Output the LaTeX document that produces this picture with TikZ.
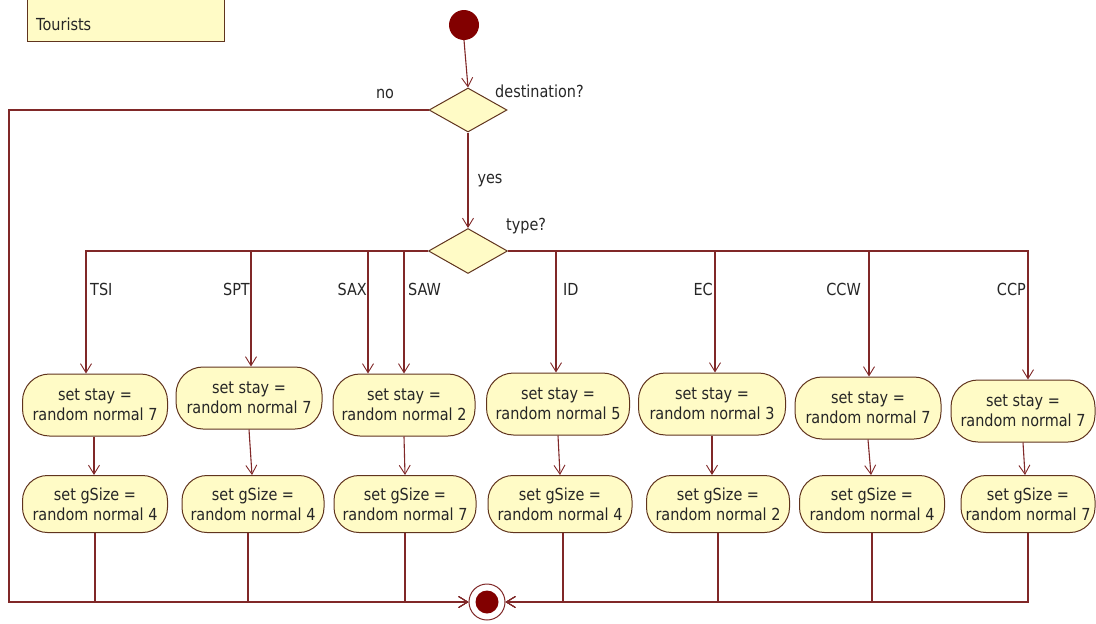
\documentclass[tikz,border=0pt]{standalone}
\usepackage{fontspec}
\setmainfont{DejaVu Sans}[FakeStretch=0.87]
\usetikzlibrary{arrows.meta,shapes.geometric,calc}

\definecolor{flowline}{RGB}{128,40,40}
\definecolor{boxfill}{RGB}{255,251,198}
\definecolor{boxline}{RGB}{96,52,30}
\definecolor{dotred}{RGB}{130,0,0}

\begin{document}
\begin{tikzpicture}[x=1pt,y=-1pt,
  every node/.style={font=\fontsize{16.6}{20}\selectfont, text=black!85},
  action/.style={draw=boxline, fill=boxfill, line width=1pt, rounded corners=27pt,
                 minimum height=62pt, align=center, inner sep=0pt},
  sizebox/.style={action, minimum height=57pt, rounded corners=25pt},
  decision/.style={draw=boxline, fill=boxfill, line width=1pt, shape=diamond,
                   inner sep=0pt, minimum width=78pt, minimum height=44pt},
  flow/.style={draw=flowline, line width=1.1pt,
               -{Straight Barb[length=9pt,width=11pt,line width=0.9pt]}},
  lbl/.style={inner sep=0pt}
]
\useasboundingbox (0,0) rectangle (1096,624);

% swimlane title
\node[draw=boxline, fill=boxfill, line width=1pt, anchor=north west,
      minimum width=197pt, minimum height=51pt] (lane) at (27,-10) {};
\node[lbl, anchor=west] (lanetitle) at (36,24) {Tourists};

% initial and final states
\node[circle, fill=dotred, minimum size=30pt, inner sep=0pt] (start) at (464,25) {};
\node[circle, draw=flowline, fill=white, line width=1pt, minimum size=36pt, inner sep=0pt] (final) at (487,602) {};
\node[circle, fill=dotred, minimum size=23pt, inner sep=0pt] (finaldot) at (487,602) {};

% decisions
\node[decision] (d1) at (468,110) {};
\node[decision, minimum width=79pt, minimum height=45pt] (d2) at (468,251) {};
\node[lbl, anchor=west] (d1q) at (495,91) {destination?};
\node[lbl, anchor=west] (d2q) at (506,226) {type?};
\node[lbl] (nolbl) at (385,94) {no};
\coordinate (noleft) at (9,110);

% activities: length of stay
\node[action, minimum width=145pt] (s1) at (95,405) {set stay =\\random normal 7};
\node[action, minimum width=146pt] (s2) at (249,398) {set stay =\\random normal 7};
\node[action, minimum width=142pt] (s3) at (404,405) {set stay =\\random normal 2};
\node[action, minimum width=143pt] (s4) at (558,404) {set stay =\\random normal 5};
\node[action, minimum width=147pt] (s5) at (712,404) {set stay =\\random normal 3};
\node[action, minimum width=146pt] (s6) at (868,408) {set stay =\\random normal 7};
\node[action, minimum width=144pt] (s7) at (1023,411) {set stay =\\random normal 7};

% activities: group size
\node[sizebox, minimum width=145pt] (g1) at (95,504) {set gSize =\\random normal 4};
\node[sizebox, minimum width=142pt] (g2) at (253,504) {set gSize =\\random normal 4};
\node[sizebox, minimum width=142pt] (g3) at (405,504) {set gSize =\\random normal 7};
\node[sizebox, minimum width=144pt] (g4) at (560,504) {set gSize =\\random normal 4};
\node[sizebox, minimum width=143pt] (g5) at (718,504) {set gSize =\\random normal 2};
\node[sizebox, minimum width=145pt] (g6) at (872,504) {set gSize =\\random normal 4};
\node[sizebox, minimum width=134pt] (g7) at (1028,504) {set gSize =\\random normal 7};

% branch labels
\node[lbl, anchor=west] (tTSI) at (90,289) {TSI};
\node[lbl, anchor=east] (tSPT) at (250,289) {SPT};
\node[lbl, anchor=east] (tSAX) at (367,289) {SAX};
\node[lbl, anchor=west] (tSAW) at (408,289) {SAW};
\node[lbl, anchor=west] (tID)  at (563,289) {ID};
\node[lbl, anchor=east] (tEC)  at (713,289) {EC};
\node[lbl, anchor=east] (tCCW) at (861,289) {CCW};
\node[lbl, anchor=east] (tCCP) at (1026,289) {CCP};

% control flow
\draw[flow] (start.south) -- (d1.north);
\draw[flow] (d1.south) -- node[lbl, anchor=west, xshift=9pt] (yeslbl) {yes} (d2.north);
\draw[flow] (d1.west) -- (d1.west -| noleft) |- (final.west);

\draw[flow] (d2.west) -| ([xshift=-9pt]s1.north);
\draw[flow] (d2.west) -| ([xshift=2pt]s2.north);
\draw[flow] (d2.west) -| ([xshift=-36pt]s3.north);
\draw[flow] (d2.west) -| (s3.north);
\draw[flow] (d2.east) -| ([xshift=-2pt]s4.north);
\draw[flow] (d2.east) -| ([xshift=3pt]s5.north);
\draw[flow] (d2.east) -| ([xshift=1pt]s6.north);
\draw[flow] (d2.east) -| ([xshift=5pt]s7.north);

\draw[flow] ([xshift=-1pt]s1.south) -- ([xshift=-1pt]g1.north);
\draw[flow] (s2.south) -- ([xshift=-1pt]g2.north);
\draw[flow] (s3.south) -- (g3.north);
\draw[flow] (s4.south) -- (g4.north);
\draw[flow] (s5.south) -- ([xshift=-6pt]g5.north);
\draw[flow] (s6.south) -- ([xshift=-1pt]g6.north);
\draw[flow] (s7.south) -- ([xshift=-3pt]g7.north);

\draw[flow] (g1.south) |- (final.west);
\draw[flow] ([xshift=-5pt]g2.south) |- (final.west);
\draw[flow] (g3.south) |- (final.west);
\draw[flow] ([xshift=3pt]g4.south) |- (final.east);
\draw[flow] (g5.south) |- (final.east);
\draw[flow] (g6.south) |- (final.east);
\draw[flow] (g7.south) |- (final.east);
\end{tikzpicture}
\end{document}
